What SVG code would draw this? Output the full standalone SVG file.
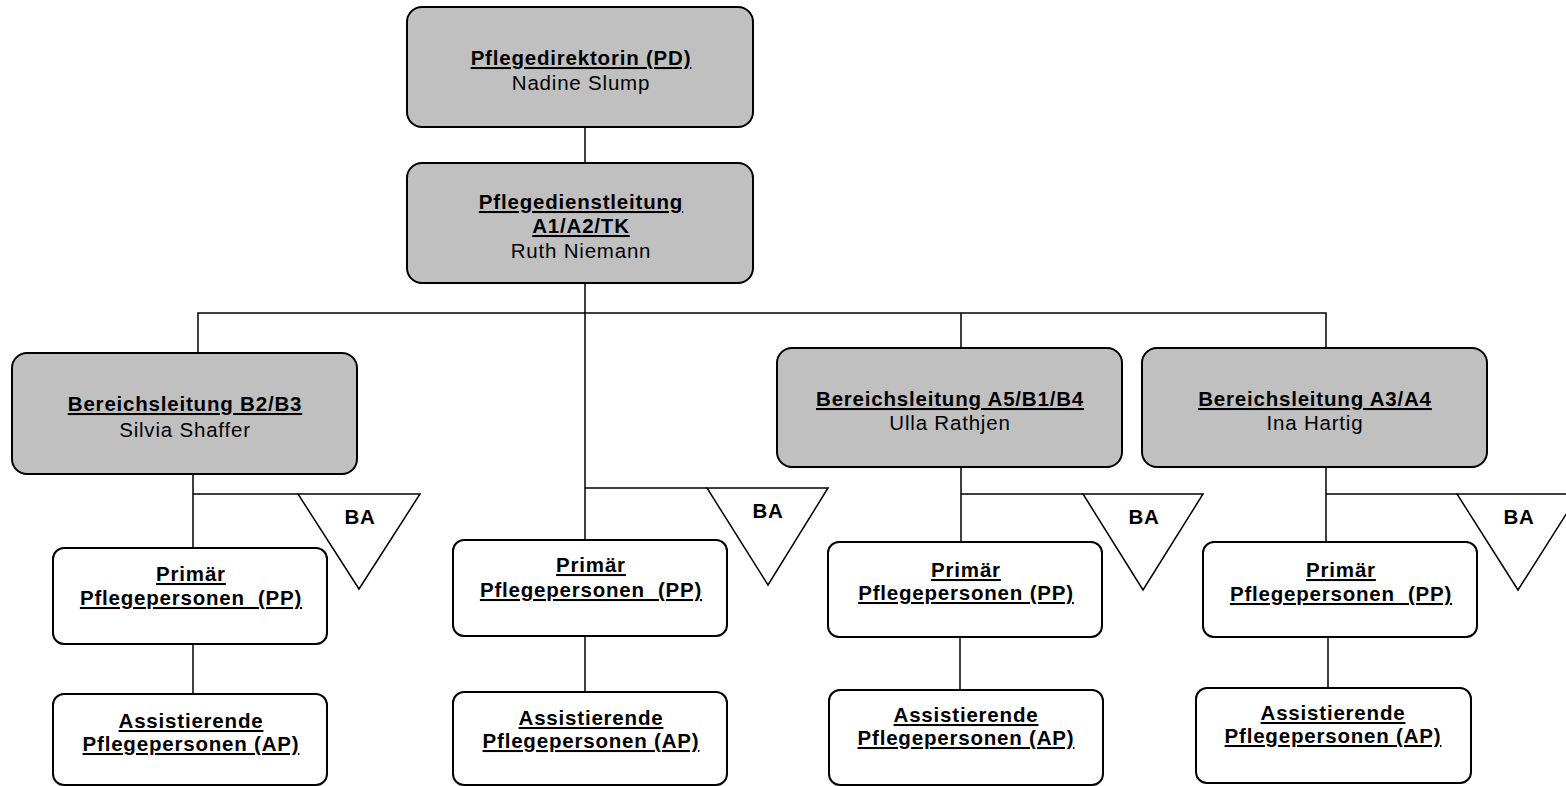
<svg xmlns="http://www.w3.org/2000/svg" width="1566" height="786" viewBox="0 0 1566 786">
<style>
.g{fill:#c0c0c0;stroke:#000;stroke-width:2}
.w{fill:#fff;stroke:#000;stroke-width:2}
.tri{fill:#fff;stroke:#000;stroke-width:1.5}
.c{fill:none;stroke:#000;stroke-width:1.5}
text{font-family:"Liberation Sans",Arial,sans-serif;font-size:20.5px;letter-spacing:0.8px;text-anchor:middle;fill:#000}
.b{font-weight:bold;text-decoration:underline}
.ba{font-weight:bold}
</style>
<rect width="1566" height="786" fill="#fff"/>
<g id="connectors">
<path class="c" d="M585 127V163"/>
<path class="c" d="M585 283V540M585 488H707"/>
<path class="c" d="M198 353V313H1326V348M961 313V348"/>
<path class="c" d="M193 474V548M193 494H298"/>
<path class="c" d="M193 644V694"/>
<path class="c" d="M585 636V692"/>
<path class="c" d="M961 467V542M961 494H1083"/>
<path class="c" d="M960 637V690"/>
<path class="c" d="M1326 467V542M1326 494H1457"/>
<path class="c" d="M1328 637V688"/>
</g>
<g id="pd">
<rect class="g" x="407" y="7" width="346" height="120" rx="15"/>
<text class="b" x="581" y="65">Pflegedirektorin (PD)</text>
<text x="581" y="90">Nadine Slump</text>
</g>
<g id="pdl">
<rect class="g" x="407" y="163" width="346" height="120" rx="15"/>
<text class="b" x="581" y="209">Pflegedienstleitung</text>
<text class="b" x="581" y="233">A1/A2/TK</text>
<text x="581" y="258">Ruth Niemann</text>
</g>
<g id="bl1">
<rect class="g" x="12" y="353" width="345" height="121" rx="15"/>
<text class="b" x="185" y="411">Bereichsleitung B2/B3</text>
<text x="185" y="437">Silvia Shaffer</text>
</g>
<g id="bl3">
<rect class="g" x="777" y="348" width="345" height="119" rx="15"/>
<text class="b" x="950" y="406">Bereichsleitung A5/B1/B4</text>
<text x="950" y="430">Ulla Rathjen</text>
</g>
<g id="bl4">
<rect class="g" x="1142" y="348" width="345" height="119" rx="15"/>
<text class="b" x="1315" y="406">Bereichsleitung A3/A4</text>
<text x="1315" y="430">Ina Hartig</text>
</g>
<g id="ba1">
<polygon class="tri" points="298,494 420,494 359,589"/>
<text class="ba" x="360" y="524">BA</text>
</g>
<g id="ba2">
<polygon class="tri" points="707,488 828,488 768,585"/>
<text class="ba" x="768" y="518">BA</text>
</g>
<g id="ba3">
<polygon class="tri" points="1083,494 1203,494 1143,590"/>
<text class="ba" x="1144" y="524">BA</text>
</g>
<g id="ba4">
<polygon class="tri" points="1457,494 1579,494 1518,590"/>
<text class="ba" x="1519" y="524">BA</text>
</g>
<g id="pp1">
<rect class="w" x="53" y="548" width="274" height="96" rx="11"/>
<text class="b" x="191" y="581">Primär</text>
<text class="b" x="191" y="605" xml:space="preserve">Pflegepersonen  (PP)</text>
</g>
<g id="pp2">
<rect class="w" x="453" y="540" width="274" height="96" rx="11"/>
<text class="b" x="591" y="572">Primär</text>
<text class="b" x="591" y="597" xml:space="preserve">Pflegepersonen  (PP)</text>
</g>
<g id="pp3">
<rect class="w" x="828" y="542" width="274" height="95" rx="11"/>
<text class="b" x="966" y="577">Primär</text>
<text class="b" x="966" y="600">Pflegepersonen (PP)</text>
</g>
<g id="pp4">
<rect class="w" x="1203" y="542" width="274" height="95" rx="11"/>
<text class="b" x="1341" y="577">Primär</text>
<text class="b" x="1341" y="601" xml:space="preserve">Pflegepersonen  (PP)</text>
</g>
<g id="ap1">
<rect class="w" x="53" y="694" width="274" height="91" rx="11"/>
<text class="b" x="191" y="728">Assistierende</text>
<text class="b" x="191" y="751">Pflegepersonen (AP)</text>
</g>
<g id="ap2">
<rect class="w" x="453" y="692" width="274" height="93" rx="11"/>
<text class="b" x="591" y="725">Assistierende</text>
<text class="b" x="591" y="748">Pflegepersonen (AP)</text>
</g>
<g id="ap3">
<rect class="w" x="829" y="690" width="274" height="95" rx="11"/>
<text class="b" x="966" y="722">Assistierende</text>
<text class="b" x="966" y="745">Pflegepersonen (AP)</text>
</g>
<g id="ap4">
<rect class="w" x="1196" y="688" width="275" height="95" rx="11"/>
<text class="b" x="1333" y="720">Assistierende</text>
<text class="b" x="1333" y="743">Pflegepersonen (AP)</text>
</g>
</svg>
